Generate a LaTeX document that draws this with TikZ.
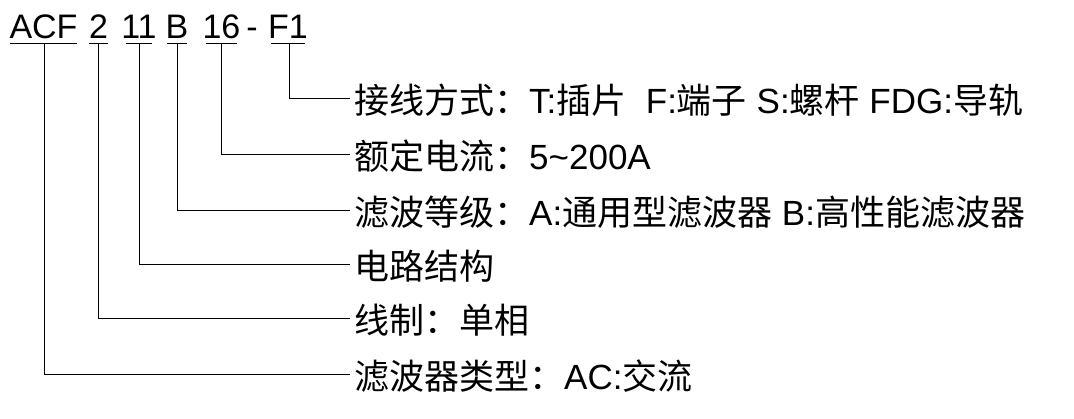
\documentclass[tikz,border=0pt]{standalone}
\usepackage{fontspec}
\setmainfont{Liberation Sans}
\newfontfamily\cjk{Noto Sans CJK SC}
\newcommand{\zh}[1]{{\cjk #1}}
\begin{document}
\begin{tikzpicture}[x=1pt,y=-1pt,
  code/.style={font=\fontsize{34}{34}\selectfont,anchor=base,inner sep=0},
  lab/.style={font=\fontsize{35}{35}\selectfont,anchor=west,inner sep=0},
  ln/.style={line width=1pt}]
\useasboundingbox (0,0) rectangle (1074,418);
\node[code] (c1) at (43.5,38) {ACF};
\node[code] (c2) at (98.5,38) {2};
\node[code] (c3) at (139,38) {11};
\node[code] (c4) at (177,38) {B};
\node[code] (c5) at (221.5,38) {16};
\node[code] (c6) at (252,38) {-};
\node[code] (c7) at (288,38) {F1};
\foreach \a/\b in {10/77,89/108,126/152,167/187,206/237,271/305}
  \draw[ln] (\a,43) -- (\b,43);
\node[lab] (l1) at (354,100) {\zh{接线方式：}T:\zh{插片}\ \ F:\zh{端子} S:\zh{螺杆} FDG:\zh{导轨}};
\node[lab] (l2) at (354,156) {\zh{额定电流：}5\textasciitilde200A};
\node[lab] (l3) at (354,212) {\zh{滤波等级：}A:\zh{通用型滤波器} B:\zh{高性能滤波器}};
\node[lab] (l4) at (354,266) {\zh{电路结构}};
\node[lab] (l5) at (354,320) {\zh{线制：单相}};
\node[lab] (l6) at (354,376) {\zh{滤波器类型：}AC:\zh{交流}};
\coordinate (e1) at (350,98);
\coordinate (e2) at (350,154);
\coordinate (e3) at (350,210);
\coordinate (e4) at (350,264);
\coordinate (e5) at (350,318);
\coordinate (e6) at (350,374);
\draw[ln] (289,43) |- (e1);
\draw[ln] (221,43) |- (e2);
\draw[ln] (177,43) |- (e3);
\draw[ln] (139,43) |- (e4);
\draw[ln] (98,43) |- (e5);
\draw[ln] (44,43) |- (e6);
\end{tikzpicture}
\end{document}
